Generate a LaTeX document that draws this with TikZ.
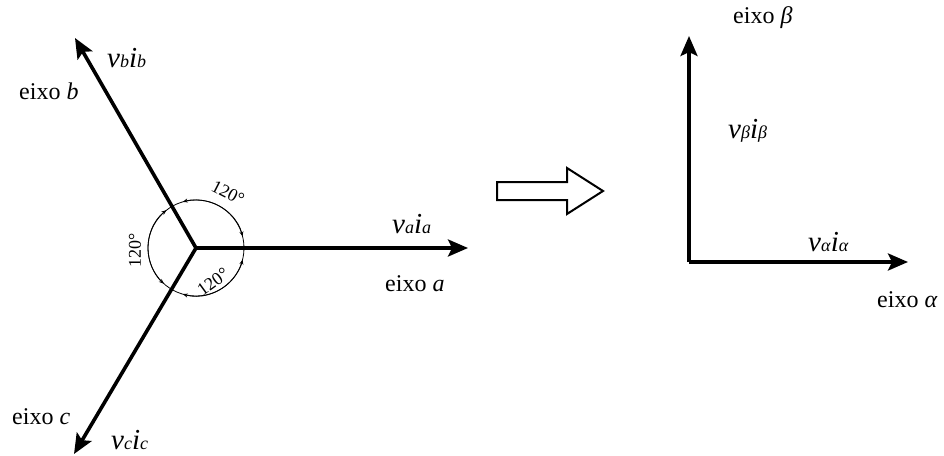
\documentclass[tikz,border=0pt]{standalone}
\usepackage{fontspec}
\setmainfont{Liberation Serif}
\usetikzlibrary{arrows.meta}
\newcommand\vimk[1]{\fontsize{29}{30}\selectfont\textit{v}{\fontsize{18}{19}\selectfont\textit{#1}}\textit{i}{\fontsize{18}{19}\selectfont\textit{#1}}}
\begin{document}
\begin{tikzpicture}[x=1pt,y=-1pt,
  axis/.style={line width=3.6pt,-{Stealth[length=20pt,width=17pt,inset=4pt]}},
  lbl/.style={font=\fontsize{24}{26}\selectfont,inner sep=0pt},
  vlbl/.style={inner sep=0pt},
  ang/.style={font=\fontsize{18}{19}\selectfont,inner sep=0pt},
  arcl/.style={line width=0.8pt,{Stealth[length=5pt,width=4pt]}-{Stealth[length=5pt,width=4pt]}}]
\useasboundingbox (0,0) rectangle (944,455);
% left: three-phase axes
\coordinate (O) at (196,248);
\coordinate (A) at (468,248);
\coordinate (B) at (75,38);
\coordinate (C) at (74,454);
\draw[axis] (O) -- (A);
\draw[axis] (O) -- (B);
\draw[axis] (O) -- (C);
\draw[line width=0.8pt] (O) circle (48);
\draw[arcl] ([shift={(O)}]-14:48) arc (-14:-106:48);
\draw[arcl] ([shift={(O)}]-128:48) arc (-128:-228:48);
\draw[arcl] ([shift={(O)}]-254:48) arc (-254:-346:48);
\node[ang,rotate=-27] (t1) at (228,193) {120°};
\node[ang,rotate=90] (t2) at (135,250) {120°};
\node[ang,rotate=36] (t3) at (213,282) {120°};
\node[vlbl,anchor=base west] (la) at (392,233) {\vimk{a}};
\node[lbl,anchor=base west] (ea) at (385,291) {eixo \textit{a}};
\node[vlbl,anchor=base west] (lb) at (107,67) {\vimk{b}};
\node[lbl,anchor=base west] (eb) at (19,99) {eixo \textit{b}};
\node[lbl,anchor=base west] (ec) at (12,424) {eixo \textit{c}};
\node[vlbl,anchor=base west] (lc) at (111,449) {\vimk{c}};
% block arrow
\draw[line width=2pt,line join=miter] (497,182) -- (567,182) -- (567,168) -- (603,191) -- (567,214) -- (567,200) -- (497,200) -- cycle;
% right: two-phase axes
\coordinate (P) at (689,262);
\coordinate (Al) at (908,262);
\coordinate (Be) at (689,36);
\draw[axis] (P) -- (Al);
\draw[axis] (P) -- (Be);
\node[vlbl,anchor=base west] (lal) at (808,251) {\vimk{α}};
\node[lbl,anchor=base west] (eal) at (877,307) {eixo \textit{α}};
\node[vlbl,anchor=base west] (lbe) at (728,138) {\vimk{β}};
\node[lbl,anchor=base west] (ebe) at (733,23) {eixo \textit{β}};
\end{tikzpicture}
\end{document}
